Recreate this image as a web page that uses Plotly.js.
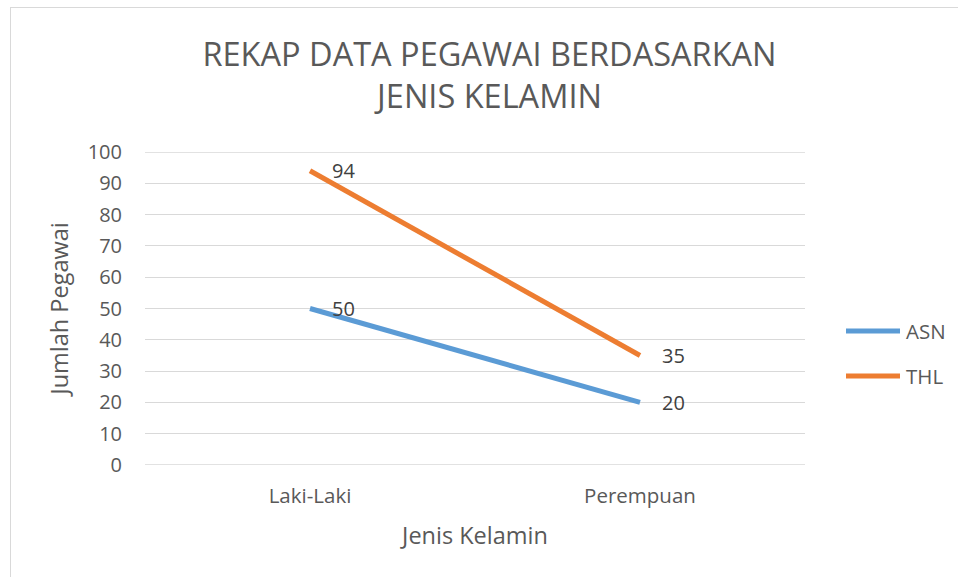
<!DOCTYPE html>
<html>
<head>
<meta charset="utf-8">
<script src="https://cdn.plot.ly/plotly-3.0.1.min.js"></script>
<style>
  html, body { margin: 0; padding: 0; background: #fff; }
  #wrap { position: relative; width: 958px; height: 577px; overflow: hidden; }
  #chart { position: absolute; left: 0; top: 0; width: 958px; height: 577px; }
  #frame { position: absolute; left: 10px; top: 7px; width: 1000px; height: 1000px;
           border-left: 1px solid #d9d9d9; border-top: 1px solid #d9d9d9; pointer-events: none; }
</style>
</head>
<body>
<div id="wrap">
  <div id="chart"></div>
  <div id="frame"></div>
</div>
<script>
const categories = ["Laki-Laki", "Perempuan"];
const asnValues = [50, 20];
const thlValues = [94, 35];
const seriesNames = ["ASN", "THL"];
const yTicks = [0, 10, 20, 30, 40, 50, 60, 70, 80, 90, 100];

const FONT = "'Open Sans', sans-serif";
const colors = ["#5B9BD5", "#ED7D31"];
const gridColor = "#d9d9d9";
const seriesValues = [asnValues, thlValues];

const traces = seriesValues.map((vals, i) => ({
  type: "scatter",
  mode: "lines",
  name: seriesNames[i],
  x: categories,
  y: vals,
  line: { color: colors[i], width: 5 },
  showlegend: false,
  hoverinfo: "x+y+name"
}));

const annotations = [];
seriesValues.forEach((vals) => {
  vals.forEach((v, j) => {
    annotations.push({
      x: categories[j], y: v, xref: "x", yref: "y",
      text: String(v), showarrow: false,
      xanchor: "left", yanchor: "middle", xshift: 20, yshift: 0,
      font: { family: FONT, size: 20, color: "#404040" }
    });
  });
});

// gridlines at the axis ends (Plotly skips them at the plot edges)
const shapes = [yTicks[0], yTicks[yTicks.length - 1]].map((v) => ({
  type: "line", xref: "paper", yref: "y", x0: 0, x1: 1, y0: v, y1: v,
  line: { color: gridColor, width: 1.3 }, layer: "below"
}));

// legend drawn as shapes + annotations (Excel-style long legend keys)
const plotW = 660, plotH = 313;
const legendRowsY = [331, 376];   // pixel centers of legend rows
seriesNames.forEach((name, i) => {
  const yp = (465 - legendRowsY[i]) / plotH;
  shapes.push({
    type: "line", xref: "paper", yref: "paper",
    x0: (846 - 145) / plotW, x1: (900 - 145) / plotW, y0: yp, y1: yp,
    line: { color: colors[i], width: 5 }
  });
  annotations.push({
    xref: "paper", yref: "paper", x: (904 - 145) / plotW, y: yp,
    xanchor: "left", yanchor: "middle", showarrow: false,
    text: name, font: { family: FONT, size: 20.5, color: "#595959" }
  });
});

const layout = {
  width: 958, height: 577,
  margin: { l: 145, r: 153, t: 152, b: 112 },
  paper_bgcolor: "rgba(0,0,0,0)",
  plot_bgcolor: "#fff",
  title: {
    text: "REKAP DATA PEGAWAI BERDASARKAN<br>JENIS KELAMIN",
    font: { family: FONT, size: 32.5, color: "#595959" },
    x: 0.511, xanchor: "center", y: 0.886, yanchor: "middle"
  },
  xaxis: {
    type: "category",
    range: [-0.5, 1.5],
    showgrid: false, zeroline: false, showline: false,
    ticks: "", tickfont: { family: FONT, size: 20.5, color: "#595959" },
    ticklabelstandoff: 16,
    title: { text: "Jenis Kelamin", font: { family: FONT, size: 23.5, color: "#595959" }, standoff: 20 }
  },
  yaxis: {
    range: [0, 100],
    tickvals: yTicks,
    showgrid: true, gridcolor: gridColor, gridwidth: 1.3,
    zeroline: false, showline: false, ticks: "",
    tickfont: { family: FONT, size: 20, color: "#595959" },
    ticklabelstandoff: 22,
    title: { text: "Jumlah Pegawai", font: { family: FONT, size: 23.5, color: "#595959" }, standoff: 12 }
  },
  shapes: shapes,
  annotations: annotations,
  showlegend: false
};

Plotly.newPlot("chart", traces, layout, { displayModeBar: false, responsive: false });
</script>
</body>
</html>
